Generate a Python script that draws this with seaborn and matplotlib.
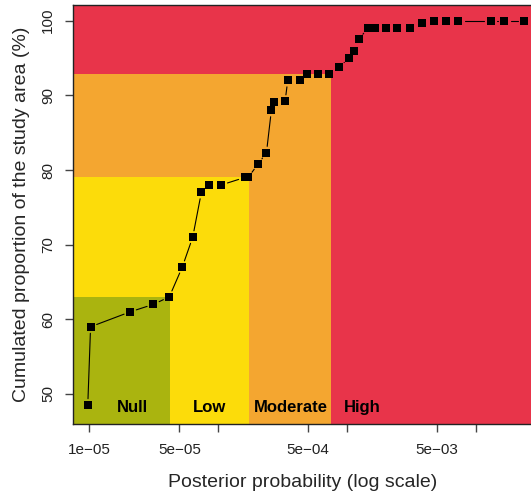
import matplotlib
matplotlib.use("Agg")
import matplotlib.pyplot as plt
import seaborn as sns
import numpy as np
import pandas as pd

# posterior probability vs cumulated proportion of the study area
post_prob = [9.7e-6, 1.02e-5, 2.07e-5, 3.13e-5, 4.17e-5, 5.26e-5, 6.34e-5, 7.40e-5,
             8.49e-5, 1.057e-4, 1.61e-4, 1.71e-4, 2.04e-4, 2.37e-4, 2.59e-4, 2.72e-4,
             3.31e-4, 3.47e-4, 4.32e-4, 4.90e-4, 5.96e-4, 7.26e-4, 8.73e-4, 1.04e-3,
             1.14e-3, 1.24e-3, 1.45e-3, 1.65e-3, 2.02e-3, 2.44e-3, 3.09e-3, 3.83e-3,
             4.75e-3, 5.92e-3, 7.34e-3, 1.31e-2, 1.67e-2, 2.38e-2]
cum_area = [48.5, 59.0, 61.0, 62.0, 63.0, 67.0, 71.0, 77.0,
            78.0, 78.0, 79.0, 79.0, 80.8, 82.3, 88.0, 89.1,
            89.2, 92.0, 92.0, 92.8, 92.8, 92.8, 93.8, 95.0,
            96.0, 97.5, 99.0, 99.0, 99.0, 99.0, 99.0, 99.65,
            100.0, 100.0, 100.0, 100.0, 100.0, 100.0]

# risk classes: upper x threshold and upper y threshold of each rectangle
classes = ["Null", "Low", "Moderate", "High"]
class_x_max = [4.22e-5, 1.73e-4, 7.52e-4, None]
class_y_max = [63.0, 79.0, 92.8, None]
class_colors = ["#AAB40F", "#FCDC0A", "#F4A630", "#E8344A"]
label_x = [2.14e-5, 8.63e-5, 3.68e-4, 1.31e-3]
label_y = 48.2

xticks = [1e-5, 5e-5, 1e-4, 5e-4, 1e-3, 5e-3, 1e-2]
xtick_labels = ["1e\u221205", "5e\u221205", "", "5e\u221204", "", "5e\u221203", ""]
yticks = [50, 60, 70, 80, 90, 100]

sns.set_style("ticks")
plt.rcParams['font.family'] = ['Liberation Sans', 'DejaVu Sans']

fig = plt.figure(figsize=(5.31, 4.92), dpi=100)
ax = fig.add_axes([73 / 531, 1 - 424 / 492, (532 - 73) / 531, (424 - 5.3) / 492])

ax.set_xscale("log")
xmin, xmax = 10 ** -5.128, 10 ** -1.562
ymin, ymax = 45.98, 102.06
ax.set_xlim(xmin, xmax)
ax.set_ylim(ymin, ymax)

# nested background rectangles, largest first
for name, xm, ym, col in reversed(list(zip(classes, class_x_max, class_y_max, class_colors))):
    xr = xmax if xm is None else xm
    yr = ymax if ym is None else ym
    ax.fill_between([xmin, xr], ymin, yr, color=col, linewidth=0, zorder=0)

df = pd.DataFrame({"prob": post_prob, "area": cum_area})

# R-style "b" lines: segments with a gap around each point
gap = 6.5  # pixels
pts = ax.transData.transform(np.column_stack([post_prob, cum_area]))
inv = ax.transData.inverted()
for p1, p2 in zip(pts[:-1], pts[1:]):
    d = p2 - p1
    L = np.hypot(*d)
    if L <= 2 * gap:
        continue
    u = d / L
    seg = inv.transform(np.array([p1 + gap * u, p2 - gap * u]))
    ax.plot(seg[:, 0], seg[:, 1], color="black", linewidth=0.8, zorder=2)

sns.scatterplot(data=df, x="prob", y="area", ax=ax, color="black", marker="s",
                s=36, edgecolor="black", linewidth=0, zorder=3, legend=False)

for name, lx in zip(classes, label_x):
    ax.text(lx, label_y, name, ha="center", va="center", fontsize=12,
            fontweight="bold", color="black", zorder=4)

ax.set_xticks(xticks)
ax.set_xticklabels(xtick_labels)
ax.xaxis.set_minor_locator(matplotlib.ticker.NullLocator())
ax.set_yticks(yticks)
ax.set_yticklabels([str(v) for v in yticks], rotation=90, va="center")

ax.tick_params(axis="both", direction="out", length=6, width=1, color="#444444",
               labelsize=11, labelcolor="#222222")
ax.tick_params(axis="x", pad=8)
ax.tick_params(axis="y", pad=7)

for side in ["top", "bottom", "left"]:
    ax.spines[side].set_color("#222222")
    ax.spines[side].set_linewidth(1)
ax.spines["right"].set_visible(False)

ax.set_xlabel("Posterior probability (log scale)", fontsize=14, labelpad=12)
ax.set_ylabel("Cumulated proportion of the study area (%)", fontsize=14, labelpad=8)

plt.savefig("out.png", dpi=100)
